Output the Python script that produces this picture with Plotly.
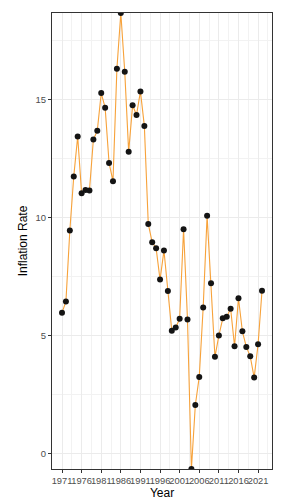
import plotly.graph_objects as go

years = list(range(1971, 2023))
inflation = [5.97, 6.44, 9.45, 11.74, 13.43, 11.03, 11.16, 11.14, 13.30, 13.67,
             15.27, 14.65, 12.31, 11.54, 16.30, 18.66, 16.17, 12.78, 14.75, 14.34,
             15.34, 13.88, 9.73, 8.95, 8.70, 7.37, 8.60, 6.89, 5.20, 5.34,
             5.71, 9.50, 5.68, -0.65, 2.06, 3.25, 6.19, 10.07, 7.22, 4.10,
             5.00, 5.73, 5.80, 6.14, 4.55, 6.58, 5.18, 4.52, 4.12, 3.22,
             4.63, 6.90]
x_ticks = list(range(1971, 2022, 5))
y_ticks = [0, 5, 10, 15]

font = "Liberation Sans, Arial, sans-serif"

fig = go.Figure()
fig.add_trace(go.Scatter(
    x=years, y=inflation, mode="lines+markers",
    line=dict(color="#F7A23A", width=1.1),
    marker=dict(color="#141414", size=6),
    showlegend=False,
))

xr = max(years) - min(years)
fig.update_layout(
    width=287, height=503,
    margin=dict(l=52, r=15, t=13, b=34),
    paper_bgcolor="white", plot_bgcolor="white",
    font=dict(family=font, color="#4D4D4D", size=9),
    xaxis=dict(
        range=[min(years) - 0.05 * xr, max(years) + 0.05 * xr],
        tickmode="array", tickvals=x_ticks, ticktext=[str(v) for v in x_ticks],
        tickangle=0, automargin=False,
        ticks="outside", ticklen=3, tickcolor="#333333", tickwidth=1,
        tickfont=dict(size=9.3, color="#4D4D4D"),
        showgrid=True, gridcolor="#EBEBEB", gridwidth=1,
        minor=dict(showgrid=True, gridcolor="#F2F2F2", gridwidth=0.6, dtick=2.5, tick0=1971),
        showline=True, linecolor="#333333", linewidth=1, mirror=True,
        zeroline=False,
        title=dict(text="Year", font=dict(size=12, color="black"), standoff=2),
    ),
    yaxis=dict(
        range=[min(inflation), max(inflation)],
        tickmode="array", tickvals=y_ticks, ticktext=[str(v) for v in y_ticks],
        automargin=False,
        ticks="outside", ticklen=3, tickcolor="#333333", tickwidth=1,
        tickfont=dict(size=9.5, color="#4D4D4D"),
        showgrid=True, gridcolor="#EBEBEB", gridwidth=1,
        minor=dict(showgrid=True, gridcolor="#F2F2F2", gridwidth=0.6, dtick=2.5, tick0=0),
        showline=True, linecolor="#333333", linewidth=1, mirror=True,
        zeroline=False,
        title=dict(text="Inflation Rate", font=dict(size=12, color="black"), standoff=5),
    ),
)

fig.write_html("out.html", config={"displayModeBar": False},
               post_script="document.body.style.margin='0';document.body.style.overflow='hidden';")
